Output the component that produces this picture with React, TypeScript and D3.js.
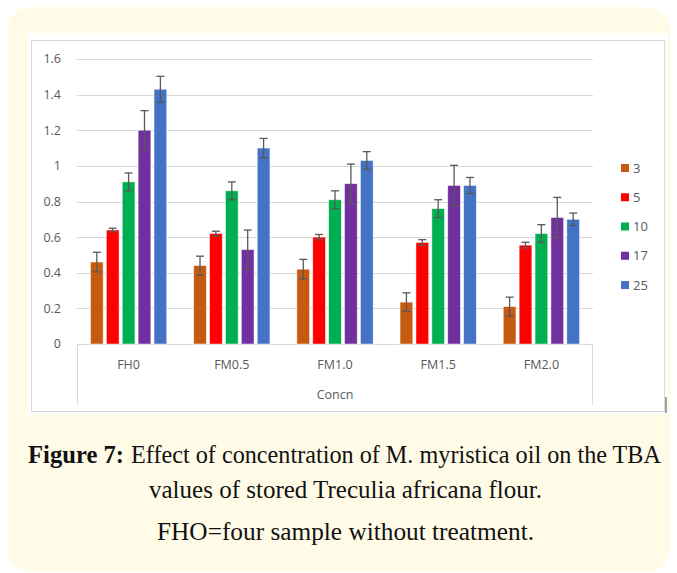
import React from "react";
import * as d3 from "d3";

const categories = ["FH0", "FM0.5", "FM1.0", "FM1.5", "FM2.0"];
const seriesNames = ["3", "5", "10", "17", "25"];
const seriesColors = ["#c55a11", "#ff0000", "#00b050", "#7030a0", "#4472c4"];
// values[series][category]
const values3 = [0.46, 0.44, 0.42, 0.235, 0.21];
const values5 = [0.64, 0.62, 0.6, 0.57, 0.555];
const values10 = [0.91, 0.86, 0.81, 0.76, 0.62];
const values17 = [1.2, 0.53, 0.9, 0.89, 0.71];
const values25 = [1.43, 1.1, 1.03, 0.89, 0.7];
const errors3 = [0.055, 0.053, 0.055, 0.052, 0.053];
const errors5 = [0.01, 0.013, 0.015, 0.016, 0.016];
const errors10 = [0.05, 0.05, 0.05, 0.05, 0.05];
const errors17 = [0.11, 0.11, 0.11, 0.113, 0.113];
const errors25 = [0.073, 0.054, 0.05, 0.045, 0.035];
const yTicks = [0, 0.2, 0.4, 0.6, 0.8, 1, 1.2, 1.4, 1.6];
const xAxisTitle = "Concn";

const seriesValues = [values3, values5, values10, values17, values25];
const seriesErrors = [errors3, errors5, errors10, errors17, errors25];

export default function App() {
  const W = 677;
  const H = 573;
  const plotLeft = 77;
  const plotRight = 593;
  const y = d3.scaleLinear().domain([0, 1.6]).range([344, 59]);
  const x0 = d3
    .scaleBand<string>()
    .domain(categories)
    .range([plotLeft, plotRight])
    .paddingInner(0.23)
    .paddingOuter(0.115);
  const x1 = d3
    .scaleBand<string>()
    .domain(seriesNames)
    .range([0, x0.bandwidth()])
    .paddingInner(0.2)
    .paddingOuter(0.1);
  const legendY = d3.scalePoint<string>().domain(seriesNames).range([168, 285]);
  const font = "'Open Sans', 'Noto Sans', sans-serif";
  const gray = "#595959";
  const grid = "#d9d9d9";
  const axisBottom = 405;
  const serif = "'Liberation Serif', 'DejaVu Serif', serif";
  const capScale = 1.19;

  return (
    <svg
      width={W}
      height={H}
      style={{ position: "absolute", left: 0, top: 0, display: "block" }}
    >
      <rect x={0} y={0} width={W} height={H} fill="#ffffff" />
      <rect x={8} y={7} width={662} height={565} rx={22} fill="#fffbe7" />
      <rect x={28} y={33} width={640} height={381} fill="#ffffff" />
      <rect x={31.5} y={40.5} width={633} height={371} fill="none" stroke={grid} strokeWidth={1} />
      <line x1={666} x2={666} y1={397} y2={413} stroke="#404040" strokeWidth={1} />

      {yTicks.map((t) => (
        <g key={t}>
          <line
            x1={plotLeft}
            x2={plotRight}
            y1={Math.round(y(t)) + 0.5}
            y2={Math.round(y(t)) + 0.5}
            stroke={grid}
            strokeWidth={1}
          />
          <text
            x={61}
            y={y(t)}
            dy="0.35em"
            textAnchor="end"
            fontFamily={font}
            fontSize={12.5}
            fill={gray}
          >
            {String(t)}
          </text>
        </g>
      ))}

      <line x1={plotLeft + 0.5} x2={plotLeft + 0.5} y1={y(0)} y2={axisBottom} stroke={grid} />
      <line x1={plotRight - 0.5} x2={plotRight - 0.5} y1={y(0)} y2={axisBottom} stroke={grid} />

      {categories.map((c, ci) => (
        <g key={c}>
          {seriesNames.map((s, si) => {
            const v = seriesValues[si][ci];
            const e = seriesErrors[si][ci];
            const bx = (x0(c) as number) + (x1(s) as number);
            const bw = x1.bandwidth();
            const cx = bx + bw / 2;
            return (
              <g key={s}>
                <rect
                  x={bx}
                  y={y(v)}
                  width={bw}
                  height={y(0) - y(v)}
                  fill={seriesColors[si]}
                  stroke="#ffffff"
                  strokeOpacity={0.6}
                  strokeWidth={0.8}
                />
                <line x1={cx} x2={cx} y1={y(v + e)} y2={y(v - e)} stroke={gray} strokeWidth={1.3} />
                <line x1={cx - 4} x2={cx + 4} y1={y(v + e)} y2={y(v + e)} stroke={gray} strokeWidth={1.3} />
                <line x1={cx - 4} x2={cx + 4} y1={y(v - e)} y2={y(v - e)} stroke={gray} strokeWidth={1.3} />
              </g>
            );
          })}
          <text
            x={(x0(c) as number) + x0.bandwidth() / 2}
            y={365}
            dy="0.35em"
            textAnchor="middle"
            fontFamily={font}
            fontSize={12.5}
            fill={gray}
          >
            {c}
          </text>
        </g>
      ))}

      <text
        x={(plotLeft + plotRight) / 2}
        y={395}
        dy="0.35em"
        textAnchor="middle"
        fontFamily={font}
        fontSize={12.5}
        fill={gray}
      >
        {xAxisTitle}
      </text>

      {seriesNames.map((s, si) => (
        <g key={s}>
          <rect x={621} y={(legendY(s) as number) - 4} width={8} height={8} fill={seriesColors[si]} />
          <text
            x={633}
            y={legendY(s) as number}
            dy="0.35em"
            fontFamily={font}
            fontSize={13}
            fill={gray}
          >
            {s}
          </text>
        </g>
      ))}

      <g fontFamily={serif} fill="#111111" fontSize={21}>
        <g transform={`translate(28,463) scale(1,${capScale})`}>
          <text x={0} y={0} fontWeight="bold" textLength={96} lengthAdjust="spacingAndGlyphs">
            Figure 7:
          </text>
          <text x={103} y={0} textLength={530} lengthAdjust="spacingAndGlyphs">
            Effect of concentration of M. myristica oil on the TBA
          </text>
        </g>
        <g transform={`translate(149,498) scale(1,${capScale})`}>
          <text x={0} y={0} textLength={393} lengthAdjust="spacingAndGlyphs">
            values of stored Treculia africana flour.
          </text>
        </g>
        <g transform={`translate(157,540) scale(1,${capScale})`}>
          <text x={0} y={0} textLength={377} lengthAdjust="spacingAndGlyphs">
            FHO=four sample without treatment.
          </text>
        </g>
      </g>
    </svg>
  );
}
